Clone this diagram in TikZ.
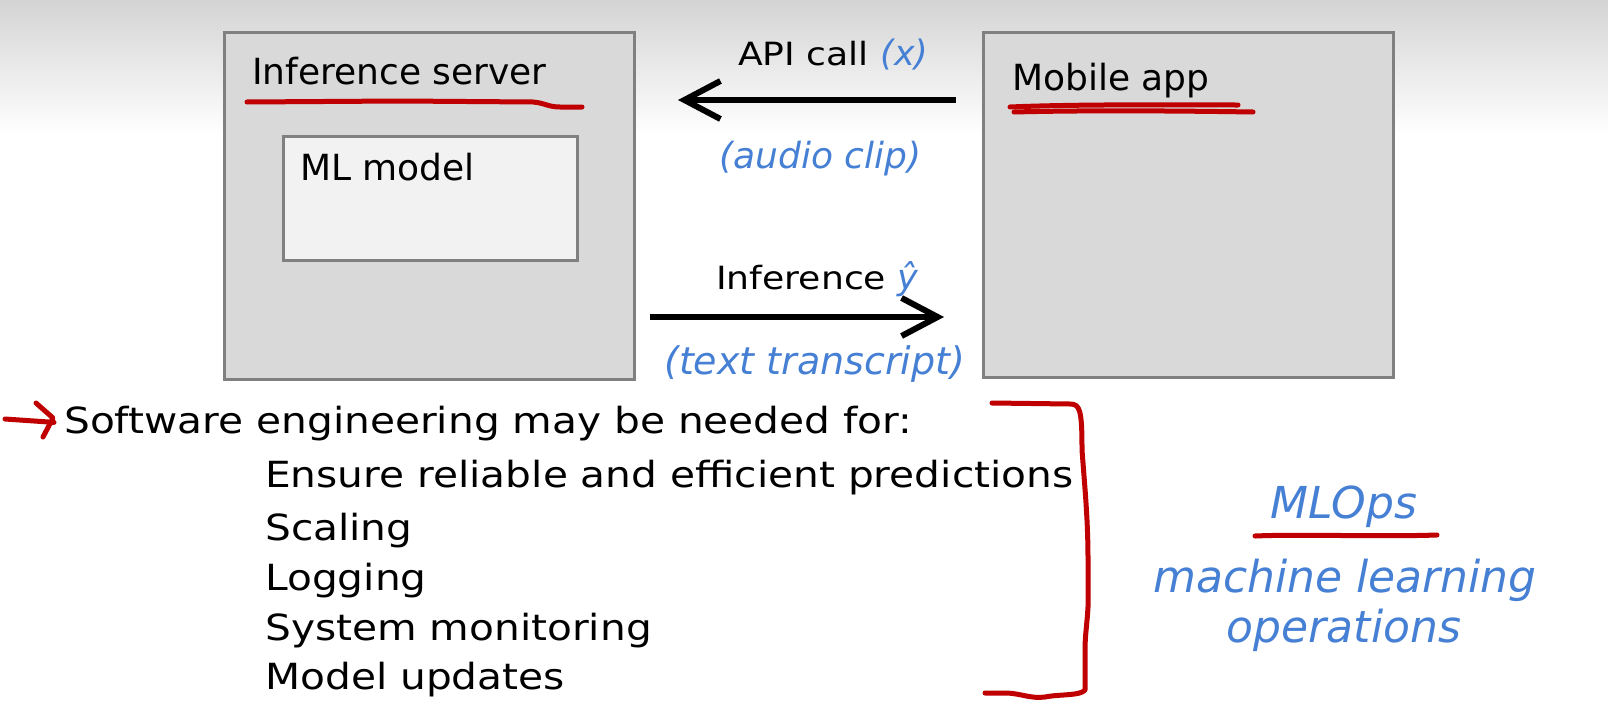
\documentclass[tikz,border=0pt]{standalone}
\usepackage{fontspec}
\setmainfont{DejaVu Sans}
\newfontfamily\hand{DejaVu Sans}
\newfontfamily\wide{DejaVu Sans}[FakeStretch=1.13]
\usetikzlibrary{arrows.meta}
\definecolor{boxfill}{RGB}{217,217,217}
\definecolor{boxline}{RGB}{128,128,128}
\definecolor{innerfill}{RGB}{242,242,242}
\definecolor{ink}{RGB}{70,128,212}
\definecolor{marker}{RGB}{192,0,0}
\definecolor{topgray}{RGB}{212,212,212}

\tikzset{
  panel/.style={draw=boxline, line width=2.5pt, fill=boxfill, anchor=north west, inner sep=0pt},
  innerpanel/.style={draw=boxline, line width=2.5pt, fill=innerfill, anchor=north west, inner sep=0pt},
  label/.style={anchor=base west, inner sep=0pt, font=\fontsize{36}{43}\selectfont},
  listtext/.style={anchor=base west, inner sep=0pt, font=\wide\fontsize{36}{43}\selectfont},
  small/.style={anchor=base west, inner sep=0pt, font=\wide\fontsize{32}{38}\selectfont},
  note/.style={anchor=base west, inner sep=0pt, text=ink, font=\hand\itshape\fontsize{36}{43}\selectfont},
  bignote/.style={anchor=base, inner sep=0pt, text=ink, font=\hand\itshape\fontsize{44}{52}\selectfont},
  flow/.style={line width=6pt, -{Straight Barb[length=36pt, width=38pt, line width=6pt]}},
  pen/.style={draw=marker, line width=5pt, line cap=round, line join=round},
}

\begin{document}
\begin{tikzpicture}[x=1pt, y=-1pt]
  % page with a soft grey band along the top
  \useasboundingbox (0,0) rectangle (1608,704);
  \fill[white] (0,0) rectangle (1608,704);
  \shade[top color=topgray, bottom color=white] (0,0) rectangle (1608,135);

  % server and client boxes
  \node[panel, minimum width=410pt, minimum height=347pt] (server) at (223,31) {};
  \node[innerpanel, minimum width=294pt, minimum height=124pt] (model) at (282,135) {};
  \node[panel, minimum width=410pt, minimum height=345pt] (mobile) at (982,31) {};

  \node[label] (servername) at (252,84) {Inference server};
  \node[label] (modelname) at (300,180) {ML model};
  \node[label] (mobilename) at (1012,90) {Mobile app};

  % request and response
  \coordinate (reqstart) at (956,100);
  \coordinate (reqend) at (678,100);
  \draw[flow] (reqstart) -- (reqend);
  \node[small] (apicall) at (738,65) {API call {\hand\itshape\color{ink}\fontsize{35}{40}\selectfont (x)}};
  \node[note, font=\hand\itshape\fontsize{36}{42}\selectfont] (audio) at (719,168) {(audio clip)};

  \coordinate (respstart) at (650,317);
  \coordinate (respend) at (944,317);
  \draw[flow] (respstart) -- (respend);
  \node[small] (inference) at (716,289) {Inference {\hand\itshape\color{ink}\fontsize{35}{40}\selectfont ŷ}};
  \node[note, font=\hand\itshape\fontsize{38}{45}\selectfont] (transcript) at (664,374) {(text transcript)};

  % hand-drawn underlines
  \draw[pen] (247,102) -- (400,101) -- (533,102) .. controls (545,103) and (548,107) .. (560,107) -- (582,107);
  \draw[pen] (1010,107) .. controls (1080,104) and (1180,105) .. (1238,105);
  \draw[pen] (1014,112) .. controls (1090,110) and (1190,111) .. (1253,112);

  % software engineering list
  \node[listtext] (swe) at (64,433) {Software engineering may be needed for:};
  \coordinate (marktail) at (5,419);
  \draw[pen, shorten >=10pt] (marktail) -- (swe.west);
  \draw[pen] (36,403) -- (53,418) -- (43,437);
  \node[listtext] (item1) at (265,487) {Ensure reliable and efficient predictions};
  \node[listtext] (item2) at (265,540) {Scaling};
  \node[listtext] (item3) at (265,590) {Logging};
  \node[listtext] (item4) at (265,640) {System monitoring};
  \node[listtext] (item5) at (265,689) {Model updates};

  % bracket grouping the list
  \draw[pen] (992,403) -- (1070,404) .. controls (1080,404) and (1082,410) .. (1082,450)
    .. controls (1085,490) and (1088,520) .. (1088,560) -- (1088,607)
    .. controls (1087,625) and (1085,635) .. (1085,650) -- (1085,690)
    .. controls (1080,696) and (1060,694) .. (1045,697)
    .. controls (1030,699) and (1020,693) .. (1005,693) -- (985,693);

  % MLOps note
  \node[bignote] (mlops) at (1344,518) {MLOps};
  \draw[pen] (1255,536) .. controls (1300,534) and (1380,537) .. (1437,535);
  \node[bignote] (mlfull) at (1345,592) {machine learning};
  \node[bignote] (ops) at (1344,642) {operations};
\end{tikzpicture}
\end{document}
